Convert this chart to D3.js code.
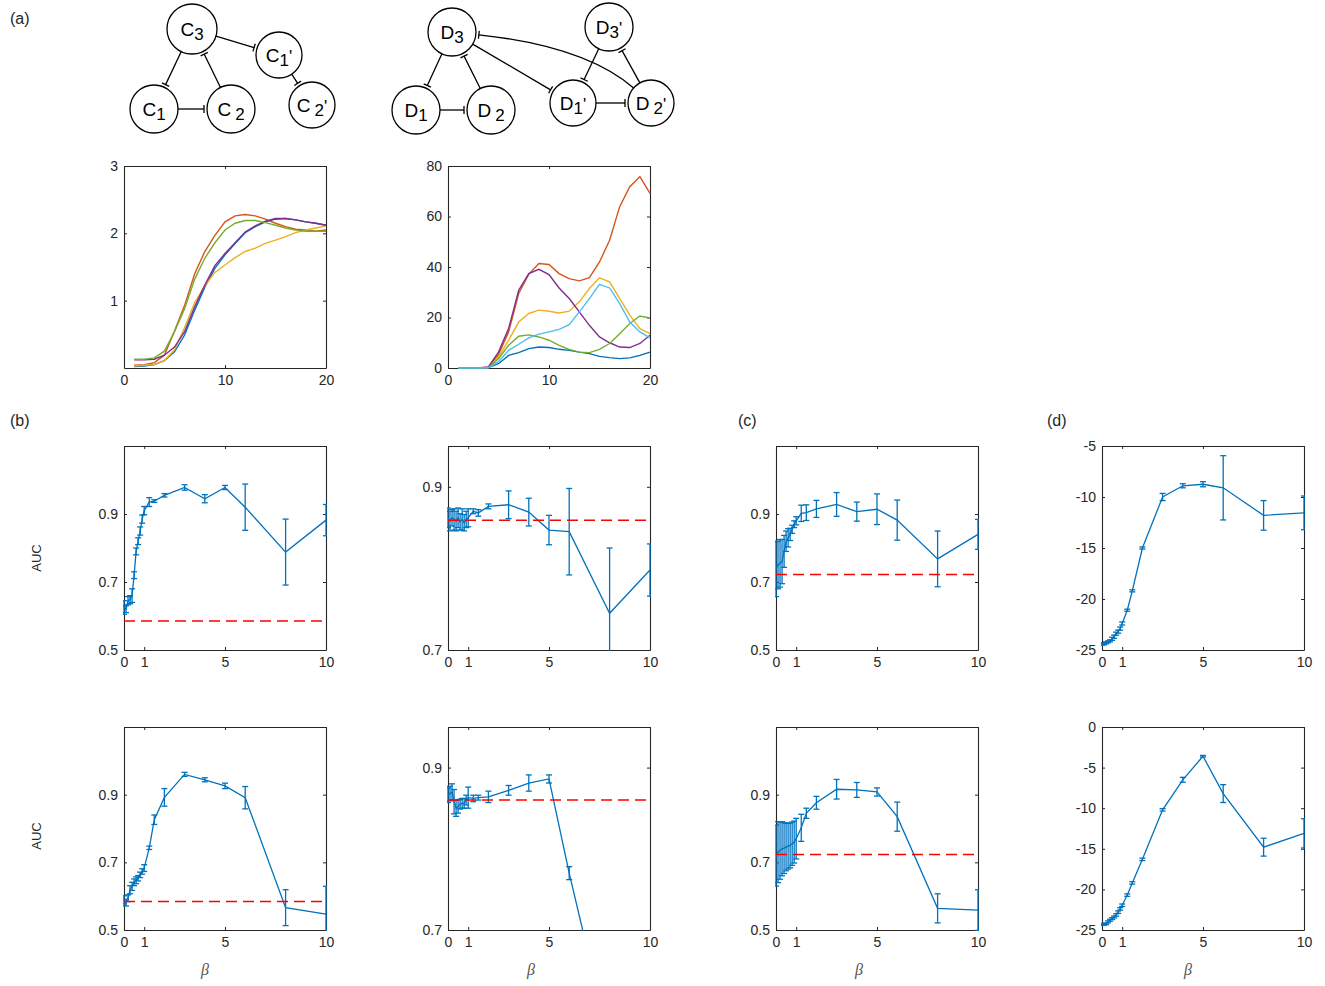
<!DOCTYPE html>
<html>
<head>
<meta charset="utf-8">
<script src="https://cdn.jsdelivr.net/npm/d3@7"></script>
<style>
  body { margin: 0; background: #fff; }
  text { font-family: Arial, "Liberation Sans", Helvetica, sans-serif; fill: #262626; }
  .tick text { font-size: 14px; }
</style>
</head>
<body>
<svg id="fig" width="1325" height="986"></svg>
<script>
// ---------------- data ----------------
const timeSteps = [1,2,3,4,5,6,7,8,9,10,11,12,13,14,15,16,17,18,19,20];

// panel (a), left: C network
const cBlue   = [0.02,0.03,0.05,0.11,0.24,0.49,0.86,1.20,1.48,1.68,1.85,2.01,2.10,2.17,2.21,2.22,2.20,2.17,2.15,2.12];
const cRed    = [0.04,0.05,0.08,0.19,0.55,0.93,1.40,1.73,1.97,2.17,2.26,2.28,2.26,2.21,2.15,2.10,2.06,2.05,2.03,2.05];
const cYellow = [0.03,0.04,0.05,0.11,0.27,0.60,0.97,1.22,1.42,1.53,1.64,1.73,1.78,1.85,1.90,1.95,2.01,2.05,2.08,2.11];
const cPurple = [0.12,0.12,0.13,0.19,0.31,0.54,0.91,1.23,1.52,1.70,1.86,2.02,2.11,2.18,2.22,2.22,2.20,2.17,2.15,2.12];
const cGreen  = [0.13,0.13,0.15,0.25,0.54,0.88,1.32,1.63,1.86,2.05,2.15,2.19,2.19,2.16,2.12,2.08,2.05,2.03,2.03,2.03];

// panel (a), right: D network
const dBlue   = [0,0,0,0.2,1.7,5.0,6.1,7.7,8.3,8.1,7.4,7.0,6.3,5.7,4.6,4.1,3.7,4.0,5.0,6.3];
const dRed    = [0,0,0,0.3,5.3,14.3,29.5,37.2,41.4,41.0,37.4,35.4,34.5,35.8,42.0,50.6,63.9,71.8,75.8,69.2];
const dYellow = [0,0,0,0.2,4.4,11.0,18.2,21.6,22.9,22.5,21.8,22.5,26.2,31.5,35.7,34.1,27.5,20.9,15.6,13.6];
const dPurple = [0,0,0,0.4,6.3,15.6,30.8,37.4,39.1,37.0,31.7,27.5,22.2,16.9,12.3,10.0,8.3,8.1,9.7,13.0];
const dGreen  = [0,0,0,0.2,3.7,9.0,12.6,13.1,12.3,11.0,9.0,7.4,6.3,6.1,7.4,9.7,13.6,17.6,20.6,19.8];
const dCyan   = [0,0,0,0.1,2.5,7.0,9.4,11.9,13.4,14.3,15.3,17.2,22.2,27.5,33.1,31.7,25.5,18.2,14.3,11.9];

// panels (b)-(d): beta sweep
const beta = [0,0.1,0.2,0.3,0.4,0.5,0.6,0.7,0.8,0.9,1,1.25,1.5,2,3,4,5,6,8,10];

const b1Mean = [0.625,0.62,0.645,0.648,0.66,0.72,0.79,0.82,0.85,0.885,0.91,0.935,0.938,0.955,0.978,0.945,0.978,0.92,0.788,0.882];
const b1Err  = [0.02,0.01,0.012,0.012,0.02,0.01,0.01,0.01,0.012,0.012,0.012,0.013,0.004,0.005,0.008,0.012,0.006,0.068,0.097,0.046];
const b1Base = 0.585;

const b2Mean = [0.862,0.858,0.862,0.86,0.858,0.862,0.857,0.86,0.856,0.86,0.862,0.870,0.868,0.876,0.878,0.869,0.847,0.845,0.745,0.798];
const b2Err  = [0.012,0.012,0.01,0.013,0.012,0.012,0.01,0.013,0.01,0.01,0.011,0.003,0.004,0.003,0.017,0.017,0.018,0.053,0.08,0.032];
const b2Base = 0.859;

const c1Mean = [0.738,0.75,0.755,0.76,0.79,0.82,0.83,0.84,0.855,0.87,0.88,0.902,0.904,0.915,0.928,0.907,0.914,0.882,0.768,0.84];
const c1Err  = [0.081,0.07,0.07,0.065,0.047,0.03,0.027,0.018,0.012,0.01,0.012,0.024,0.023,0.025,0.035,0.028,0.045,0.059,0.082,0.044];
const c1Base = 0.722;

const d1Mean = [-24.4,-24.4,-24.3,-24.2,-24.1,-23.9,-23.7,-23.4,-23.2,-22.9,-22.4,-21.1,-19.2,-15.0,-10.0,-8.9,-8.75,-9.1,-11.8,-11.55];
const d1Err  = [0.1,0.1,0.1,0.1,0.1,0.15,0.15,0.15,0.15,0.15,0.15,0.1,0.1,0.1,0.35,0.2,0.25,3.15,1.45,1.65];

const b3Mean = [0.589,0.581,0.594,0.619,0.629,0.641,0.647,0.653,0.663,0.673,0.683,0.743,0.826,0.892,0.960,0.944,0.926,0.891,0.566,0.547];
const b3Err  = [0.012,0.01,0.01,0.012,0.012,0.01,0.01,0.008,0.008,0.008,0.01,0.005,0.014,0.026,0.006,0.006,0.008,0.033,0.053,0.082];
const b3Base = 0.584;

const b4Mean = [0.866,0.868,0.87,0.858,0.85,0.852,0.855,0.856,0.856,0.86,0.863,0.862,0.863,0.864,0.872,0.881,0.886,0.770,0.56,0.55];
const b4Err  = [0.009,0.009,0.01,0.015,0.01,0.008,0.006,0.006,0.006,0.006,0.013,0.004,0.003,0.007,0.006,0.01,0.005,0.008,0.05,0.05];
const b4Base = 0.86;

const c2Mean = [0.72,0.73,0.735,0.74,0.742,0.745,0.748,0.75,0.755,0.76,0.77,0.802,0.845,0.876,0.916,0.914,0.908,0.835,0.564,0.559];
const c2Err  = [0.09,0.09,0.085,0.08,0.075,0.07,0.068,0.066,0.064,0.062,0.06,0.04,0.015,0.019,0.029,0.022,0.012,0.043,0.043,0.06];
const c2Base = 0.723;

const d2Mean = [-24.3,-24.3,-24.25,-24.0,-23.8,-23.6,-23.4,-23.15,-22.8,-22.4,-21.95,-20.7,-19.2,-16.3,-10.2,-6.5,-3.6,-8.2,-14.8,-13.1];
const d2Err  = [0.1,0.1,0.1,0.12,0.12,0.12,0.12,0.15,0.15,0.15,0.15,0.15,0.15,0.15,0.15,0.3,0.1,1.1,1.1,1.8];

// tick labels
const timeTicks = [0, 10, 20];
const cTicks = [1, 2, 3];
const dTicks = [0, 20, 40, 60, 80];
const betaTicks = [0, 1, 5, 10];
const aucTicks = [0.5, 0.7, 0.9];
const aucZoomTicks = [0.7, 0.9];
const d1Ticks = [-25, -20, -15, -10, -5];
const d2Ticks = [-25, -20, -15, -10, -5, 0];

// ---------------- drawing ----------------
const svg = d3.select('#fig');
const ink = '#262626';
const palette = ['#0072BD', '#D95319', '#EDB120', '#7E2F8E', '#77AC30', '#4DBEEE'];

let clipN = 0;
function makeFrame(left, top, w, h, xDomain, yDomain) {
    const g = svg.append('g').attr('transform', `translate(${left},${top})`);
    const x = d3.scaleLinear().domain(xDomain).range([0, w]);
    const y = d3.scaleLinear().domain(yDomain).range([h, 0]);
    const id = 'clip' + (clipN++);
    g.append('clipPath').attr('id', id).append('rect')
        .attr('x', -1).attr('y', -1).attr('width', w + 2).attr('height', h + 2);
    return {g, x, y, w, h, clip: id};
}

function addAxes(f, xTicks, yTicks, yFmt) {
    const inner = -3;
    f.g.append('g').attr('transform', `translate(0,${f.h})`)
        .call(d3.axisBottom(f.x).tickValues(xTicks).tickSizeInner(inner).tickSizeOuter(0).tickPadding(7).tickFormat(d => String(d)));
    f.g.append('g')
        .call(d3.axisTop(f.x).tickValues(xTicks).tickSizeInner(inner).tickSizeOuter(0).tickFormat(''));
    f.g.append('g')
        .call(d3.axisLeft(f.y).tickValues(yTicks).tickSizeInner(inner).tickSizeOuter(0).tickPadding(6).tickFormat(yFmt));
    f.g.append('g').attr('transform', `translate(${f.w},0)`)
        .call(d3.axisRight(f.y).tickValues(yTicks).tickSizeInner(inner).tickSizeOuter(0).tickFormat(''));
    f.g.selectAll('.domain').attr('stroke', ink).attr('stroke-width', 1.1);
    f.g.selectAll('.tick line').attr('stroke', ink);
    f.g.selectAll('.tick text').attr('fill', ink);
}

function drawLines(f, xs, series) {
    const p = f.g.append('g').attr('clip-path', `url(#${f.clip})`);
    const line = d3.line().x((d, i) => f.x(xs[i])).y(d => f.y(d));
    series.forEach((s, k) => {
        p.append('path').datum(s)
            .attr('fill', 'none')
            .attr('stroke', palette[k])
            .attr('stroke-width', 1.4)
            .attr('d', line);
    });
}

function drawErrors(f, xs, mean, err, base) {
    const p = f.g.append('g').attr('clip-path', `url(#${f.clip})`);
    const blue = palette[0];
    const cap = 3;
    xs.forEach((xv, i) => {
        const cx = f.x(xv);
        const lo = f.y(mean[i] - err[i]);
        const hi = f.y(mean[i] + err[i]);
        p.append('line').attr('x1', cx).attr('x2', cx).attr('y1', lo).attr('y2', hi)
            .attr('stroke', blue).attr('stroke-width', 1.3);
        [lo, hi].forEach(yy => {
            p.append('line').attr('x1', cx - cap).attr('x2', cx + cap).attr('y1', yy).attr('y2', yy)
                .attr('stroke', blue).attr('stroke-width', 1.3);
        });
    });
    const line = d3.line().x((d, i) => f.x(xs[i])).y(d => f.y(d));
    p.append('path').datum(mean)
        .attr('fill', 'none')
        .attr('stroke', blue)
        .attr('stroke-width', 1.3)
        .attr('d', line);
    if (base != null) {
        p.append('line')
            .attr('x1', f.x.range()[0]).attr('x2', f.x.range()[1])
            .attr('y1', f.y(base)).attr('y2', f.y(base))
            .attr('stroke', '#FF0000')
            .attr('stroke-width', 1.5)
            .attr('stroke-dasharray', '11,6');
    }
}

const fmt1 = d3.format('.1f');
const plain = d => String(d);

// panel (a) time courses
const aL = makeFrame(124, 166, 202, 202, [0, 20], [0, 3]);
addAxes(aL, timeTicks, cTicks, plain);
drawLines(aL, timeSteps, [cBlue, cRed, cYellow, cPurple, cGreen]);

const aR = makeFrame(448, 166, 202, 202, [0, 20], [0, 80]);
addAxes(aR, timeTicks, dTicks, plain);
drawLines(aR, timeSteps, [dBlue, dRed, dYellow, dPurple, dGreen, dCyan]);

// beta sweeps
const colLeft = [124, 448, 776, 1102];
const rowTop = [446, 727];
const rowH = [204, 203];
const sweep = [
    {col: 0, row: 0, mean: b1Mean, err: b1Err, base: b1Base, dom: [0.5, 1.1], ticks: aucTicks, fmt: fmt1},
    {col: 1, row: 0, mean: b2Mean, err: b2Err, base: b2Base, dom: [0.7, 0.95], ticks: aucZoomTicks, fmt: fmt1},
    {col: 2, row: 0, mean: c1Mean, err: c1Err, base: c1Base, dom: [0.5, 1.1], ticks: aucTicks, fmt: fmt1},
    {col: 3, row: 0, mean: d1Mean, err: d1Err, base: null, dom: [-25, -5], ticks: d1Ticks, fmt: plain},
    {col: 0, row: 1, mean: b3Mean, err: b3Err, base: b3Base, dom: [0.5, 1.1], ticks: aucTicks, fmt: fmt1},
    {col: 1, row: 1, mean: b4Mean, err: b4Err, base: b4Base, dom: [0.7, 0.95], ticks: aucZoomTicks, fmt: fmt1},
    {col: 2, row: 1, mean: c2Mean, err: c2Err, base: c2Base, dom: [0.5, 1.1], ticks: aucTicks, fmt: fmt1},
    {col: 3, row: 1, mean: d2Mean, err: d2Err, base: null, dom: [-25, 0], ticks: d2Ticks, fmt: plain}
];
sweep.forEach(s => {
    const f = makeFrame(colLeft[s.col], rowTop[s.row], 202, rowH[s.row], [0, 10], s.dom);
    addAxes(f, betaTicks, s.ticks, s.fmt);
    drawErrors(f, beta, s.mean, s.err, s.base);
});

// axis titles
[558, 836].forEach(cy => {
    svg.append('text')
        .attr('transform', `translate(41,${cy}) rotate(-90)`)
        .attr('text-anchor', 'middle')
        .style('font-size', '13px')
        .text('AUC');
});
[205, 531, 859, 1188].forEach(cx => {
    svg.append('text')
        .attr('x', cx).attr('y', 975)
        .attr('text-anchor', 'middle')
        .style('font-family', '"Liberation Serif", "DejaVu Serif", serif')
        .style('font-style', 'italic')
        .style('font-size', '16px')
        .style('fill', '#555')
        .text('β');
});

// panel letters
[['(a)', 10, 24], ['(b)', 10, 426], ['(c)', 738, 426], ['(d)', 1047, 426]].forEach(([t, x, y]) => {
    svg.append('text').attr('x', x).attr('y', y).style('font-size', '16px').text(t);
});

// ---------------- network sketches ----------------
const nodes = {
    C3:  {cx: 192, cy: 29,  r: 25, base: 'C', sub: '3'},
    C1p: {cx: 279, cy: 55,  r: 23, base: 'C', sub: '1', prime: true},
    C1:  {cx: 154, cy: 109, r: 24, base: 'C', sub: '1'},
    C2:  {cx: 231, cy: 109, r: 24, base: 'C', sub: '2', gap: true},
    C2p: {cx: 312, cy: 105, r: 23, base: 'C', sub: '2', prime: true, gap: true},
    D3:  {cx: 452, cy: 32,  r: 24, base: 'D', sub: '3'},
    D3p: {cx: 609, cy: 27,  r: 24, base: 'D', sub: '3', prime: true},
    D1:  {cx: 416, cy: 110, r: 24, base: 'D', sub: '1'},
    D2:  {cx: 491, cy: 110, r: 24, base: 'D', sub: '2', gap: true},
    D1p: {cx: 573, cy: 103, r: 23, base: 'D', sub: '1', prime: true},
    D2p: {cx: 651, cy: 103, r: 23, base: 'D', sub: '2', prime: true, gap: true}
};
const edges = [
    ['C3', 'C1'], ['C2', 'C3'], ['C1', 'C2'], ['C3', 'C1p'], ['C1p', 'C2p'],
    ['D3', 'D1'], ['D2', 'D3'], ['D1', 'D2'], ['D3', 'D1p'], ['D3p', 'D1p'], ['D2p', 'D3p'], ['D1p', 'D2p']
];

const net = svg.append('g');
const barGap = 3;   // the inhibition bar stands a little off the circle

Object.values(nodes).forEach(n => {
    net.append('circle').attr('cx', n.cx).attr('cy', n.cy).attr('r', n.r)
        .attr('fill', '#fff').attr('stroke', '#000').attr('stroke-width', 1.3);
    const t = net.append('text')
        .attr('x', n.cx).attr('y', n.cy + 7)
        .attr('text-anchor', 'middle')
        .style('font-size', '19px')
        .style('fill', '#000');
    t.append('tspan').text(n.base);
    t.append('tspan').attr('dy', 4).attr('dx', n.gap ? 4 : 0).style('font-size', '17px').text(n.sub);
    if (n.prime) t.append('tspan').attr('dy', -4).style('font-size', '17px').text("'");
});

function inhibitBar(ex, ey, ux, uy) {
    const h = 4;
    net.append('line')
        .attr('x1', ex - uy * h).attr('y1', ey + ux * h)
        .attr('x2', ex + uy * h).attr('y2', ey - ux * h)
        .attr('stroke', '#000').attr('stroke-width', 1.3);
}
edges.forEach(([a, b]) => {
    const A = nodes[a], B = nodes[b];
    const dx = B.cx - A.cx, dy = B.cy - A.cy, L = Math.hypot(dx, dy);
    const ux = dx / L, uy = dy / L;
    const sx = A.cx + ux * A.r, sy = A.cy + uy * A.r;
    const ex = B.cx - ux * (B.r + barGap), ey = B.cy - uy * (B.r + barGap);
    net.append('line').attr('x1', sx).attr('y1', sy).attr('x2', ex).attr('y2', ey)
        .attr('stroke', '#000').attr('stroke-width', 1.3);
    inhibitBar(ex, ey, ux, uy);
});

// curved edge D2' -| D3
(() => {
    const A = nodes.D2p, B = nodes.D3;
    const qx = 585, qy = 46;
    let vx = qx - A.cx, vy = qy - A.cy, L = Math.hypot(vx, vy);
    const sx = A.cx + vx / L * A.r, sy = A.cy + vy / L * A.r;
    vx = qx - B.cx; vy = qy - B.cy; L = Math.hypot(vx, vy);
    const ex = B.cx + vx / L * (B.r + barGap), ey = B.cy + vy / L * (B.r + barGap);
    net.append('path')
        .attr('d', `M${sx},${sy}Q${qx},${qy} ${ex},${ey}`)
        .attr('fill', 'none').attr('stroke', '#000').attr('stroke-width', 1.3);
    const tx = ex - qx, ty = ey - qy, TL = Math.hypot(tx, ty);
    inhibitBar(ex, ey, tx / TL, ty / TL);
})();
</script>
</body>
</html>
